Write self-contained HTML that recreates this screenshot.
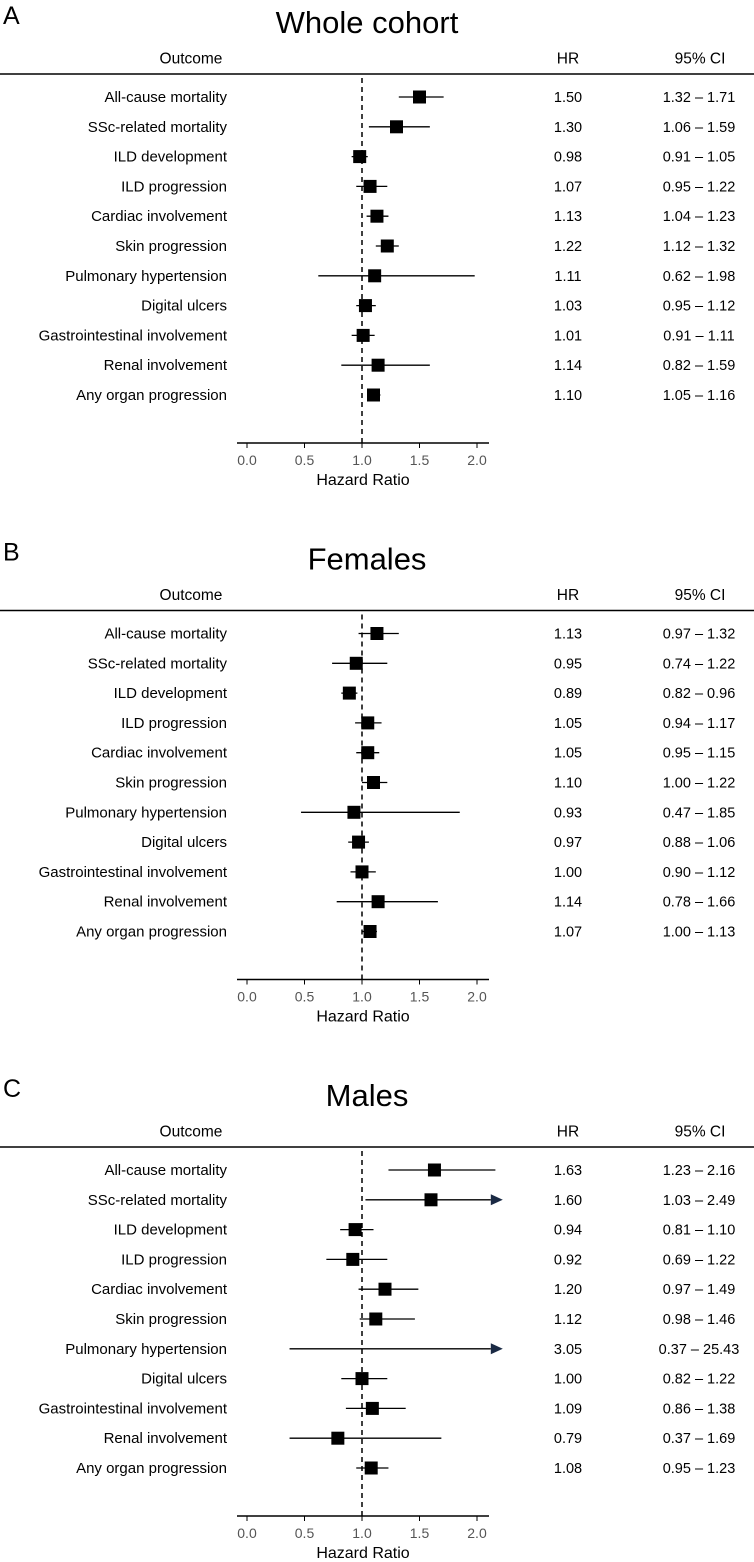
<!DOCTYPE html>
<html><head><meta charset="utf-8"><style>
html,body{margin:0;padding:0;background:#fff;}
svg{display:block;font-family:"Liberation Sans",Arial,sans-serif;}
</style></head><body>
<svg id="chart" width="754" height="1562" viewBox="0 0 754 1562"></svg>
<script>
const outcomes = ["All-cause mortality","SSc-related mortality","ILD development","ILD progression","Cardiac involvement","Skin progression","Pulmonary hypertension","Digital ulcers","Gastrointestinal involvement","Renal involvement","Any organ progression"];
const panelLetters = ["A","B","C"];
const panelTitles = ["Whole cohort","Females","Males"];
const hrA = [1.50,1.30,0.98,1.07,1.13,1.22,1.11,1.03,1.01,1.14,1.10];
const loA = [1.32,1.06,0.91,0.95,1.04,1.12,0.62,0.95,0.91,0.82,1.05];
const hiA = [1.71,1.59,1.05,1.22,1.23,1.32,1.98,1.12,1.11,1.59,1.16];
const hrB = [1.13,0.95,0.89,1.05,1.05,1.10,0.93,0.97,1.00,1.14,1.07];
const loB = [0.97,0.74,0.82,0.94,0.95,1.00,0.47,0.88,0.90,0.78,1.00];
const hiB = [1.32,1.22,0.96,1.17,1.15,1.22,1.85,1.06,1.12,1.66,1.13];
const hrC = [1.63,1.60,0.94,0.92,1.20,1.12,3.05,1.00,1.09,0.79,1.08];
const loC = [1.23,1.03,0.81,0.69,0.97,0.98,0.37,0.82,0.86,0.37,0.95];
const hiC = [2.16,2.49,1.10,1.22,1.49,1.46,25.43,1.22,1.38,1.69,1.23];
const xTicks = [0,0.5,1.0,1.5,2.0];
const xMax = 2.2;

const NS="http://www.w3.org/2000/svg";
const svg=document.getElementById('chart');
function mk(tag,attrs,parent){const e=document.createElementNS(NS,tag);for(const k in attrs)e.setAttribute(k,attrs[k]);(parent||svg).appendChild(e);return e;}
function tx(str,attrs,parent){const e=mk('text',attrs,parent);e.textContent=str;return e;}
const xs=v=>247+v*115;
const panels=[[hrA,loA,hiA],[hrB,loB,hiB],[hrC,loC,hiC]];
panels.forEach((p,pi)=>{
  const oy=pi*536.5;
  const g=mk('g',{transform:`translate(0,${oy})`});
  
  
  const L=tx(panelLetters[pi],{x:3,y:24,'font-size':25,fill:'#000'},g);
  
  const T=tx(panelTitles[pi],{x:367,y:33,'font-size':31,'text-anchor':'middle',fill:'#000'},g);
  
  const h1=tx('Outcome',{x:191,y:63.5,'font-size':15.5,'text-anchor':'middle'},g);
  
  const h2=tx('HR',{x:568,y:63.5,'font-size':15.5,'text-anchor':'middle'},g);
  
  const h3=tx('95% CI',{x:700,y:63.5,'font-size':15.5,'text-anchor':'middle'},g);
  
  const hl=mk('line',{x1:0,x2:754,y1:74,y2:74,stroke:'#000','stroke-width':1.5},g);
  
  const ref=mk('line',{x1:xs(1),x2:xs(1),y1:78,y2:443,stroke:'#000','stroke-width':1.5,'stroke-dasharray':'5,4'},g);
  
  const [hr,lo,hi]=p;
  outcomes.forEach((o,i)=>{
    const y=97+i*29.8;
    const lab=tx(o,{x:227,y:y+5,'font-size':15,'text-anchor':'end'},g);
    
    const x1=xs(lo[i]);const over=hi[i]>xMax;const x2=over?xs(2.12):xs(hi[i]);
    const ci=mk('line',{x1:x1,x2:x2,y1:y,y2:y,stroke:'#000','stroke-width':1.3},g);
    
    if(over){const a=mk('polygon',{points:`${x2},${y-5.5} ${x2+12},${y} ${x2},${y+5.5}`,fill:'#1a2a44'},g);
      }
    if(hr[i]<=xMax){
      const hx=xs(hr[i]);
      const sq=mk('rect',{x:hx-6.5,y:y-6.5,width:13,height:13,fill:'#000'},g);
      
    }
    const hv=tx(hr[i].toFixed(2),{x:568,y:y+5,'font-size':14.5,'text-anchor':'middle'},g);
    
    const cv=tx(lo[i].toFixed(2)+' – '+hi[i].toFixed(2),{x:699,y:y+5,'font-size':14.5,'text-anchor':'middle'},g);
    
  });
  const ax=mk('line',{x1:237,x2:489,y1:443,y2:443,stroke:'#000','stroke-width':1.5},g);
  
  xTicks.forEach(t=>{
    const tk=mk('line',{x1:xs(t),x2:xs(t),y1:443,y2:448,stroke:'#000','stroke-width':1},g);
    
    const tl=tx(t.toFixed(1),{x:xs(t),y:465,'font-size':14,'text-anchor':'middle',fill:'#555'},g);
    
  });
  const at=tx('Hazard Ratio',{x:363,y:485,'font-size':16,'text-anchor':'middle'},g);
  
});
</script>
</body></html>
